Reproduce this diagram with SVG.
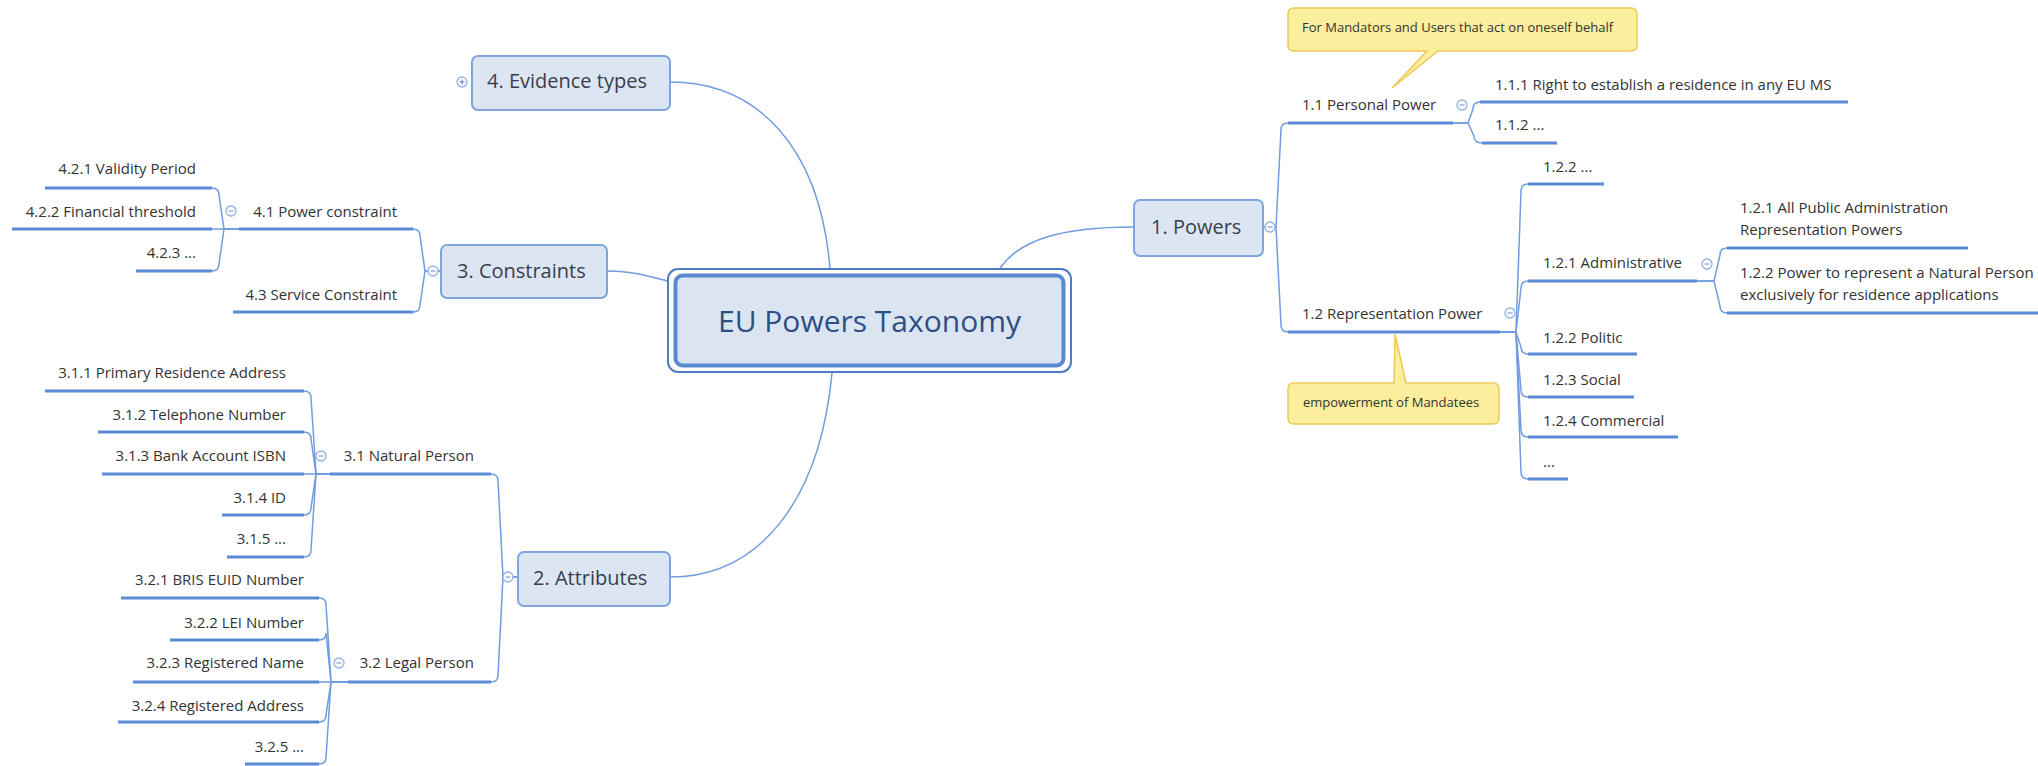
<svg xmlns="http://www.w3.org/2000/svg" xmlns:xlink="http://www.w3.org/1999/xlink" width="2038" height="766" viewBox="0 0 2038 766">
  <style>
    .t { font-family: "Open Sans", "Liberation Sans", sans-serif; font-size: 15px; fill: #333333; }
    .r { text-anchor: end; }
    .l1t { font-size: 20px; fill: #3a3d4c; }
    .co { font-size: 13px; fill: #333333; }
    .ul { stroke: #5b8ad6; stroke-width: 3; stroke-linecap: butt; fill: none; }
    .cn { stroke: #6f9ddf; stroke-width: 1.5; fill: none; }
    .box { fill: #dce6f2; stroke: #7fa5dc; stroke-width: 2; }
    .call { fill: #fbee9c; stroke: #f0c85a; stroke-width: 1.5; }
  </style>
  <defs>
    <g id="minus">
      <circle r="5" fill="#ffffff" stroke="#92b2e2" stroke-width="1.3"/>
      <line x1="-2.5" y1="0" x2="2.5" y2="0" stroke="#7f9fd2" stroke-width="1.2"/>
    </g>
    <g id="plus">
      <circle r="5" fill="#ffffff" stroke="#92b2e2" stroke-width="1.3"/>
      <line x1="-2.5" y1="0" x2="2.5" y2="0" stroke="#6f8fc6" stroke-width="1.2"/>
      <line x1="0" y1="-2.5" x2="0" y2="2.5" stroke="#6f8fc6" stroke-width="1.2"/>
    </g>
  </defs>

  <rect width="2038" height="766" fill="#ffffff"/>

  <!-- connectors -->
  <g id="connectors">
    <!-- central topic to main branches -->
    <path class="cn" d="M 670,82 C 760,82 820,150 830,268"/>
    <path class="cn" d="M 607,271 C 635,271 650,277 668,281"/>
    <path class="cn" d="M 670,577 C 760,577 820,500 832,373"/>
    <path class="cn" d="M 1000,268 C 1020,240 1060,227 1134,227"/>

    <!-- 3. Constraints -->
    <path class="cn" d="M 441,271 H 425 L 420,236 Q 420,229 413,229"/>
    <path class="cn" d="M 441,271 H 425 L 420,305 Q 420,312 413,312"/>
    <!-- 4.1 Power constraint -->
    <path class="cn" d="M 239,229 H 224 L 219,195 Q 219,188 212,188"/>
    <path class="cn" d="M 239,229 H 212"/>
    <path class="cn" d="M 239,229 H 224 L 219,264 Q 219,271 212,271"/>

    <!-- 2. Attributes -->
    <path class="cn" d="M 518,577 H 503 L 498,481 Q 498,474 491,474"/>
    <path class="cn" d="M 518,577 H 503 L 498,675 Q 498,682 491,682"/>
    <!-- 3.1 Natural Person -->
    <path class="cn" d="M 330,474 H 316 L 311,398 Q 311,391 304,391"/>
    <path class="cn" d="M 330,474 H 316 L 311,439 Q 311,432 304,432"/>
    <path class="cn" d="M 330,474 H 304"/>
    <path class="cn" d="M 330,474 H 316 L 311,508 Q 311,515 304,515"/>
    <path class="cn" d="M 330,474 H 316 L 311,550 Q 311,557 304,557"/>
    <!-- 3.2 Legal Person -->
    <path class="cn" d="M 348,682 H 331 L 326,605 Q 326,598 319,598"/>
    <path class="cn" d="M 348,682 H 331 L 326,633 Q 326,640 319,640"/>
    <path class="cn" d="M 348,682 H 319"/>
    <path class="cn" d="M 348,682 H 331 L 326,715 Q 326,722 319,722"/>
    <path class="cn" d="M 348,682 H 331 L 326,757 Q 326,764 319,764"/>

    <!-- 1. Powers -->
    <path class="cn" d="M 1263,227 H 1276 L 1281,130 Q 1281,123 1288,123"/>
    <path class="cn" d="M 1263,227 H 1276 L 1281,325 Q 1281,332 1288,332"/>
    <!-- 1.1 Personal Power -->
    <path class="cn" d="M 1453,123 H 1468 L 1473,109 Q 1473,102 1480,102"/>
    <path class="cn" d="M 1453,123 H 1468 L 1474,136 Q 1474,143 1482,143"/>
    <!-- 1.2 Representation Power -->
    <path class="cn" d="M 1500,332 H 1516 L 1521,191 Q 1521,184 1528,184"/>
    <path class="cn" d="M 1500,332 H 1516 L 1521,288 Q 1521,281 1528,281"/>
    <path class="cn" d="M 1500,332 H 1516 L 1521,347 Q 1521,354 1528,354"/>
    <path class="cn" d="M 1500,332 H 1516 L 1521,390 Q 1521,397 1528,397"/>
    <path class="cn" d="M 1500,332 H 1516 L 1521,430 Q 1521,437 1528,437"/>
    <path class="cn" d="M 1500,332 H 1516 L 1521,472 Q 1521,479 1528,479"/>
    <!-- 1.2.1 Administrative -->
    <path class="cn" d="M 1697,281 H 1714 L 1720,255 Q 1720,248 1727,248"/>
    <path class="cn" d="M 1697,281 H 1714 L 1720,306 Q 1720,313 1727,313"/>
  </g>

  <!-- central topic -->
  <g id="central">
    <rect x="668" y="269" width="403" height="103" rx="10" fill="#ffffff" stroke="#4f7bc2" stroke-width="2"/>
    <rect x="675.5" y="275.5" width="388" height="90" rx="7" fill="#dbe5f2" stroke="#5a89d4" stroke-width="4"/>
    <text x="869.5" y="332" text-anchor="middle" class="t" style="font-size:30px;fill:#2f4e84">EU Powers Taxonomy</text>
  </g>

  <!-- 4. Evidence types -->
  <g id="evidence-types">
    <rect class="box" x="472" y="56" width="198" height="54" rx="6"/>
    <text class="t l1t" x="487" y="88">4. Evidence types</text>
    <use xlink:href="#plus" x="462" y="82"/>
  </g>

  <!-- 3. Constraints -->
  <g id="constraints">
    <rect class="box" x="441" y="245" width="166" height="53" rx="6"/>
    <text class="t l1t" x="457" y="278">3. Constraints</text>
    <use xlink:href="#minus" x="433" y="271"/>
  </g>
  <g id="power-constraint">
    <line class="ul" x1="239" y1="229" x2="413" y2="229"/>
    <text class="t r" x="397" y="217">4.1 Power constraint</text>
    <use xlink:href="#minus" x="231" y="211"/>
  </g>
  <g id="validity-period">
    <line class="ul" x1="45" y1="188" x2="212" y2="188"/>
    <text class="t r" x="196" y="174">4.2.1 Validity Period</text>
  </g>
  <g id="financial-threshold">
    <line class="ul" x1="12" y1="229" x2="212" y2="229"/>
    <text class="t r" x="196" y="217">4.2.2 Financial threshold</text>
  </g>
  <g id="constraint-more">
    <line class="ul" x1="136" y1="271" x2="212" y2="271"/>
    <text class="t r" x="196" y="258">4.2.3 ...</text>
  </g>
  <g id="service-constraint">
    <line class="ul" x1="233" y1="312" x2="413" y2="312"/>
    <text class="t r" x="397" y="300">4.3 Service Constraint</text>
  </g>

  <!-- 2. Attributes -->
  <g id="attributes">
    <rect class="box" x="518" y="552" width="152" height="54" rx="6"/>
    <text class="t l1t" x="533" y="585">2. Attributes</text>
    <use xlink:href="#minus" x="508" y="577"/>
  </g>
  <g id="natural-person">
    <line class="ul" x1="330" y1="474" x2="491" y2="474"/>
    <text class="t r" x="474" y="461">3.1 Natural Person</text>
    <use xlink:href="#minus" x="321" y="456"/>
  </g>
  <g id="np-address">
    <line class="ul" x1="45" y1="391" x2="304" y2="391"/>
    <text class="t r" x="286" y="378">3.1.1 Primary Residence Address</text>
  </g>
  <g id="np-phone">
    <line class="ul" x1="98" y1="432" x2="304" y2="432"/>
    <text class="t r" x="286" y="420">3.1.2 Telephone Number</text>
  </g>
  <g id="np-bank">
    <line class="ul" x1="102" y1="474" x2="304" y2="474"/>
    <text class="t r" x="286" y="461">3.1.3 Bank Account ISBN</text>
  </g>
  <g id="np-id">
    <line class="ul" x1="222" y1="515" x2="304" y2="515"/>
    <text class="t r" x="286" y="503">3.1.4 ID</text>
  </g>
  <g id="np-more">
    <line class="ul" x1="227" y1="557" x2="304" y2="557"/>
    <text class="t r" x="286" y="544">3.1.5 ...</text>
  </g>
  <g id="legal-person">
    <line class="ul" x1="348" y1="682" x2="491" y2="682"/>
    <text class="t r" x="474" y="668">3.2 Legal Person</text>
    <use xlink:href="#minus" x="339" y="663"/>
  </g>
  <g id="lp-euid">
    <line class="ul" x1="121" y1="598" x2="319" y2="598"/>
    <text class="t r" x="304" y="585">3.2.1 BRIS EUID Number</text>
  </g>
  <g id="lp-lei">
    <line class="ul" x1="170" y1="640" x2="319" y2="640"/>
    <text class="t r" x="304" y="628">3.2.2 LEI Number</text>
  </g>
  <g id="lp-name">
    <line class="ul" x1="133" y1="682" x2="319" y2="682"/>
    <text class="t r" x="304" y="668">3.2.3 Registered Name</text>
  </g>
  <g id="lp-address">
    <line class="ul" x1="118" y1="722" x2="319" y2="722"/>
    <text class="t r" x="304" y="711">3.2.4 Registered Address</text>
  </g>
  <g id="lp-more">
    <line class="ul" x1="245" y1="764" x2="319" y2="764"/>
    <text class="t r" x="304" y="752">3.2.5 ...</text>
  </g>

  <!-- 1. Powers -->
  <g id="powers">
    <rect class="box" x="1134" y="200" width="129" height="56" rx="6"/>
    <text class="t l1t" x="1151" y="234">1. Powers</text>
    <use xlink:href="#minus" x="1270" y="227"/>
  </g>
  <g id="personal-power">
    <line class="ul" x1="1288" y1="123" x2="1453" y2="123"/>
    <text class="t" x="1302" y="110">1.1 Personal Power</text>
    <use xlink:href="#minus" x="1462" y="105"/>
  </g>
  <g id="pp-residence">
    <line class="ul" x1="1480" y1="102" x2="1848" y2="102"/>
    <text class="t" x="1495" y="90">1.1.1 Right to establish a residence in any EU MS</text>
  </g>
  <g id="pp-more">
    <line class="ul" x1="1482" y1="143" x2="1557" y2="143"/>
    <text class="t" x="1495" y="130">1.1.2 ...</text>
  </g>
  <g id="representation-power">
    <line class="ul" x1="1288" y1="332" x2="1500" y2="332"/>
    <text class="t" x="1302" y="319">1.2 Representation Power</text>
    <use xlink:href="#minus" x="1510" y="313"/>
  </g>
  <g id="rp-more-top">
    <line class="ul" x1="1528" y1="184" x2="1604" y2="184"/>
    <text class="t" x="1543" y="172">1.2.2 ...</text>
  </g>
  <g id="rp-administrative">
    <line class="ul" x1="1528" y1="281" x2="1697" y2="281"/>
    <text class="t" x="1543" y="268">1.2.1 Administrative</text>
    <use xlink:href="#minus" x="1707" y="264"/>
  </g>
  <g id="adm-all">
    <line class="ul" x1="1727" y1="248" x2="1968" y2="248"/>
    <text class="t" x="1740" y="213">1.2.1 All Public Administration</text>
    <text class="t" x="1740" y="235">Representation Powers</text>
  </g>
  <g id="adm-residence">
    <line class="ul" x1="1727" y1="313" x2="2038" y2="313"/>
    <text class="t" x="1740" y="278">1.2.2 Power to represent a Natural Person</text>
    <text class="t" x="1740" y="300">exclusively for residence applications</text>
  </g>
  <g id="rp-politic">
    <line class="ul" x1="1528" y1="354" x2="1637" y2="354"/>
    <text class="t" x="1543" y="343">1.2.2 Politic</text>
  </g>
  <g id="rp-social">
    <line class="ul" x1="1528" y1="397" x2="1634" y2="397"/>
    <text class="t" x="1543" y="385">1.2.3 Social</text>
  </g>
  <g id="rp-commercial">
    <line class="ul" x1="1528" y1="437" x2="1678" y2="437"/>
    <text class="t" x="1543" y="426">1.2.4 Commercial</text>
  </g>
  <g id="rp-more-bottom">
    <line class="ul" x1="1528" y1="479" x2="1568" y2="479"/>
    <text class="t" x="1543" y="467">...</text>
  </g>

  <!-- callouts -->
  <g id="callout-personal">
    <path class="call" d="M 1294,8 H 1631 Q 1637,8 1637,14 V 45 Q 1637,51 1631,51 H 1438 L 1392,88 L 1427,51 H 1294 Q 1288,51 1288,45 V 14 Q 1288,8 1294,8 Z"/>
    <text class="t co" x="1302" y="32">For Mandators and Users that act on oneself behalf</text>
  </g>
  <g id="callout-representation">
    <path class="call" d="M 1294,383 H 1394 L 1395,334 L 1406,383 H 1493 Q 1499,383 1499,389 V 418 Q 1499,424 1493,424 H 1294 Q 1288,424 1288,418 V 389 Q 1288,383 1294,383 Z"/>
    <text class="t co" x="1303" y="407">empowerment of Mandatees</text>
  </g>
</svg>
